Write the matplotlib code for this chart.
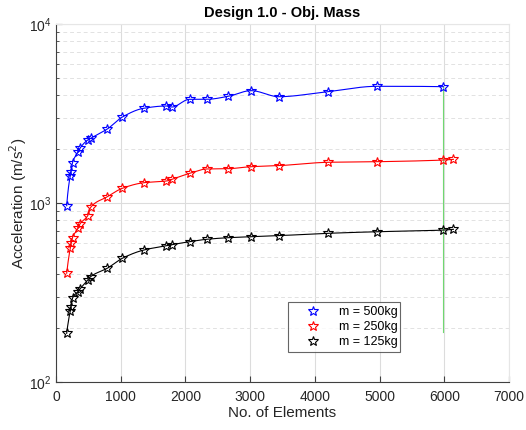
import numpy as np
import matplotlib
matplotlib.use("Agg")
import matplotlib.pyplot as plt
from matplotlib.ticker import FixedLocator, LogLocator, NullFormatter

plt.rcParams['font.family'] = ['Liberation Sans', 'DejaVu Sans']

# ---- data ----
elements = [165, 220, 235, 255, 340, 371, 490, 536, 793, 1025, 1355, 1705,
            1793, 2065, 2329, 2663, 3014, 3442, 4199, 4957, 5986, 6141]
acc_500 = [966, 1416, 1496, 1680, 1920, 2021, 2248, 2298, 2590, 3022, 3382,
           3483, 3437, 3796, 3796, 3946, 4243, 3925, 4188, 4487, 4466]
acc_250 = [405, 558, 595, 640, 722, 764, 849, 946, 1084, 1208, 1298, 1327,
           1356, 1465, 1549, 1555, 1595, 1617, 1688, 1701, 1738, 1754]
acc_125 = [187, 249, 263, 294, 320, 331, 371, 388, 432, 491, 546, 577, 585,
           608, 627, 640, 648, 657, 677, 691, 706, 713]
labels = ['m = 500kg', 'm = 250kg', 'm = 125kg']
colors = ['blue', 'red', 'black']
marker_line_x = 5986
marker_line_y = [190, 4466]
xticks = [0, 1000, 2000, 3000, 4000, 5000, 6000, 7000]


def pchip(x, y, n=800):
    x = np.asarray(x, float)
    y = np.asarray(y, float)
    h = np.diff(x)
    d = np.diff(y) / h
    m = len(x)
    s = np.zeros(m)
    for k in range(1, m - 1):
        if d[k - 1] * d[k] > 0:
            w1 = 2 * h[k] + h[k - 1]
            w2 = h[k] + 2 * h[k - 1]
            s[k] = (w1 + w2) / (w1 / d[k - 1] + w2 / d[k])
    def end(h0, h1, d0, d1):
        v = ((2 * h0 + h1) * d0 - h0 * d1) / (h0 + h1)
        if np.sign(v) != np.sign(d0):
            v = 0.0
        elif np.sign(d0) != np.sign(d1) and abs(v) > abs(3 * d0):
            v = 3 * d0
        return v
    s[0] = end(h[0], h[1], d[0], d[1])
    s[-1] = end(h[-1], h[-2], d[-1], d[-2])
    xs = np.linspace(x[0], x[-1], n)
    idx = np.clip(np.searchsorted(x, xs) - 1, 0, m - 2)
    t = (xs - x[idx]) / h[idx]
    h00 = 2 * t ** 3 - 3 * t ** 2 + 1
    h10 = t ** 3 - 2 * t ** 2 + t
    h01 = -2 * t ** 3 + 3 * t ** 2
    h11 = t ** 3 - t ** 2
    ys = (h00 * y[idx] + h10 * h[idx] * s[idx] + h01 * y[idx + 1]
          + h11 * h[idx] * s[idx + 1])
    return xs, ys


fig = plt.figure(figsize=(5.26, 4.30), dpi=100)
ax = fig.add_axes([56 / 526, 1 - 382 / 430, (509 - 56) / 526, (382 - 24) / 430])

series = [acc_500, acc_250, acc_125]
for vals, lab, col in zip(series, labels, colors):
    xv = elements[:len(vals)]
    xs, ys = pchip(xv, vals)
    ax.plot(xs, ys, color=col, lw=0.8, zorder=3)
    ax.plot(xv, vals, linestyle='none', marker='*', markersize=7.5,
            markerfacecolor='none', markeredgecolor=col, markeredgewidth=0.8,
            label=lab, zorder=4)

ax.plot([marker_line_x, marker_line_x], marker_line_y, color='#70d870',
        lw=0.8, zorder=2)

ax.set_yscale('log')
ax.set_xlim(0, 7000)
ax.set_ylim(100, 10000)
ax.xaxis.set_major_locator(FixedLocator(xticks))
ax.yaxis.set_major_locator(LogLocator(base=10, numticks=10))
ax.yaxis.set_minor_locator(LogLocator(base=10, subs=np.arange(2, 10), numticks=10))
ax.yaxis.set_minor_formatter(NullFormatter())

ax.grid(True, which='major', color='#dcdcdc', lw=0.8, linestyle='-')
ax.grid(True, which='minor', axis='y', color='#e2e2e2', lw=0.7, linestyle=(0, (4, 3)))
ax.set_axisbelow(True)

for s in ['left', 'bottom']:
    ax.spines[s].set_color('#404040')
    ax.spines[s].set_linewidth(0.8)
for s in ['top', 'right']:
    ax.spines[s].set_color('#e6e6e6')
    ax.spines[s].set_linewidth(0.8)

ax.tick_params(which='both', direction='in', colors='#404040', labelcolor='#262626',
               labelsize=10, top=False, right=False)
ax.tick_params(which='major', length=4)
ax.tick_params(axis='x', pad=6)
ax.tick_params(which='minor', length=2)

ax.set_xlabel('No. of Elements', fontsize=11, color='#262626', labelpad=1)
ax.set_ylabel('Acceleration (m/s$^2$)', fontsize=11, color='#262626', labelpad=0)
ax.set_title('Design 1.0 - Obj. Mass', fontsize=10.5, fontweight='bold', pad=5)

leg = ax.legend(loc='lower left', bbox_to_anchor=(0.512, 0.084, 0.247, 0.142),
                mode='expand', fontsize=9, frameon=True, fancybox=False,
                edgecolor='#404040', handlelength=3.4, handletextpad=0.4,
                borderpad=0.3, labelspacing=0.25, borderaxespad=0)
leg.get_frame().set_linewidth(0.8)

fig.savefig('out.png', dpi=100)
